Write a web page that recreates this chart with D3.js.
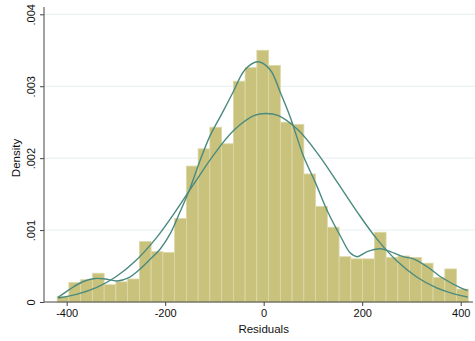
<!DOCTYPE html>
<html>
<head>
<meta charset="utf-8">
<script src="https://cdn.jsdelivr.net/npm/d3@7"></script>
<style>
  body { margin: 0; background: #fff; }
  text { font-family: "Liberation Sans", Arial, sans-serif; fill: #111; }
</style>
</head>
<body>
<div id="chart"></div>
<script>
// histogram of residuals (density scale), 35 equal bins
var binStart = -419.3;
var binWidth = 23.85;
var binDensity = [
  0.00008, 0.00027, 0.00031, 0.00040, 0.00024, 0.00028, 0.00032, 0.00084,
  0.00070, 0.00069, 0.00116, 0.00189, 0.00213, 0.00243, 0.00220, 0.00307,
  0.00326, 0.00350, 0.00329, 0.00250, 0.00247, 0.00178, 0.00133, 0.00104,
  0.00063, 0.00060, 0.00060, 0.00097, 0.00062, 0.00064, 0.00062, 0.00054,
  0.00034, 0.00046, 0.00018
];

// kernel density estimate
var kdeX = [-418, -393, -366, -342, -322, -297, -275, -251, -230, -210, -190, -170,
  -149, -129, -109, -84, -62, -38, -12, 13, 34, 54, 80, 105, 131, 157, 176, 190,
  210, 237, 257, 283, 304, 332, 364, 399, 414];
var kdeY = [0.000063, 0.00018, 0.000285, 0.000327, 0.00032, 0.000292, 0.000334,
  0.000459, 0.000598, 0.000737, 0.000946, 0.00125, 0.00159, 0.00197, 0.00231,
  0.00263, 0.00292, 0.00323, 0.00334, 0.00323, 0.00291, 0.00257, 0.00204, 0.00166,
  0.00124, 0.0009, 0.00068, 0.00063, 0.0007, 0.00074, 0.0007, 0.00063, 0.0006,
  0.00049, 0.00033, 0.0002, 0.00016];

// normal density overlay
var normX = [-418, -380, -340, -300, -260, -220, -180, -140, -100, -60, -20, 5,
  30, 70, 110, 150, 190, 230, 270, 310, 350, 390, 414];
var normY = [0.000055, 0.000106, 0.000199, 0.000351, 0.000574, 0.000874, 0.00125,
  0.00166, 0.00206, 0.00239, 0.00259, 0.00262, 0.00259, 0.00239, 0.00206, 0.00166,
  0.00125, 0.000874, 0.000574, 0.000351, 0.000199, 0.000106, 0.00007];

var xTicks = [-400, -200, 0, 200, 400];
var yTicks = [0, 0.001, 0.002, 0.003, 0.004];
var yTickLabels = ["0", ".001", ".002", ".003", ".004"];

var svgWidth = 475, svgHeight = 341;

var x = d3.scaleLinear().domain([-446, 429]).range([44, 475]);
var y = d3.scaleLinear().domain([0, 0.004]).range([302, 14.3]);

var svg = d3.select("#chart").append("svg")
  .attr("width", svgWidth)
  .attr("height", svgHeight);

// gridlines
svg.append("g")
  .selectAll("line")
  .data(yTicks.slice(1))
  .enter().append("line")
  .attr("x1", x(-446))
  .attr("x2", 475)
  .attr("y1", function(d) { return y(d); })
  .attr("y2", function(d) { return y(d); })
  .attr("stroke", "#e6efef")
  .attr("stroke-width", 1);

// bars
svg.append("g")
  .selectAll("rect")
  .data(binDensity)
  .enter().append("rect")
  .attr("x", function(d, i) { return x(binStart + i * binWidth); })
  .attr("width", function(d, i) { return x(binStart + (i + 1) * binWidth) - x(binStart + i * binWidth); })
  .attr("y", function(d) { return y(d); })
  .attr("height", function(d) { return y(0) - y(d); })
  .attr("fill", "#c9c27c")
  .attr("stroke", "#ddd8a9")
  .attr("stroke-width", 0.8);

var line = d3.line()
  .x(function(d) { return x(d[0]); })
  .y(function(d) { return y(d[1]); })
  .curve(d3.curveCatmullRom.alpha(0.5));

svg.append("path")
  .datum(d3.zip(normX, normY))
  .attr("d", line)
  .attr("fill", "none")
  .attr("stroke", "#4a8a7f")
  .attr("stroke-width", 1.4);

svg.append("path")
  .datum(d3.zip(kdeX, kdeY))
  .attr("d", line)
  .attr("fill", "none")
  .attr("stroke", "#4a8a7f")
  .attr("stroke-width", 1.4);

// axes
var yAxis = svg.append("g")
  .attr("transform", "translate(44,0)")
  .call(d3.axisLeft(y).tickValues(yTicks).tickSize(4).tickSizeOuter(0)
    .tickFormat(function(d, i) { return yTickLabels[i]; }));
yAxis.select(".domain").remove();
yAxis.selectAll("line").attr("stroke", "#444");
yAxis.selectAll("text")
  .attr("transform", "rotate(-90)")
  .attr("x", 0)
  .attr("y", -9)
  .attr("dy", 0)
  .attr("text-anchor", "middle")
  .style("font-size", "11px")
  .attr("fill", "#111");

svg.append("line")
  .attr("x1", 44).attr("x2", 44)
  .attr("y1", 7).attr("y2", 302)
  .attr("stroke", "#444");

var xAxis = svg.append("g")
  .attr("transform", "translate(0,302)")
  .call(d3.axisBottom(x).tickValues(xTicks).tickSize(4).tickSizeOuter(0)
    .tickFormat(function(d) { return String(d); }));
xAxis.select(".domain").remove();
xAxis.selectAll("line").attr("stroke", "#444");
xAxis.selectAll("text")
  .attr("y", 7)
  .style("font-size", "11px")
  .attr("fill", "#111");

svg.append("line")
  .attr("x1", 44).attr("x2", 473)
  .attr("y1", 302).attr("y2", 302)
  .attr("stroke", "#444");

svg.append("text")
  .attr("x", x(0))
  .attr("y", 333)
  .attr("text-anchor", "middle")
  .style("font-size", "11.5px")
  .text("Residuals");

svg.append("text")
  .attr("transform", "translate(20,158) rotate(-90)")
  .attr("text-anchor", "middle")
  .style("font-size", "11.5px")
  .text("Density");
</script>
</body>
</html>
